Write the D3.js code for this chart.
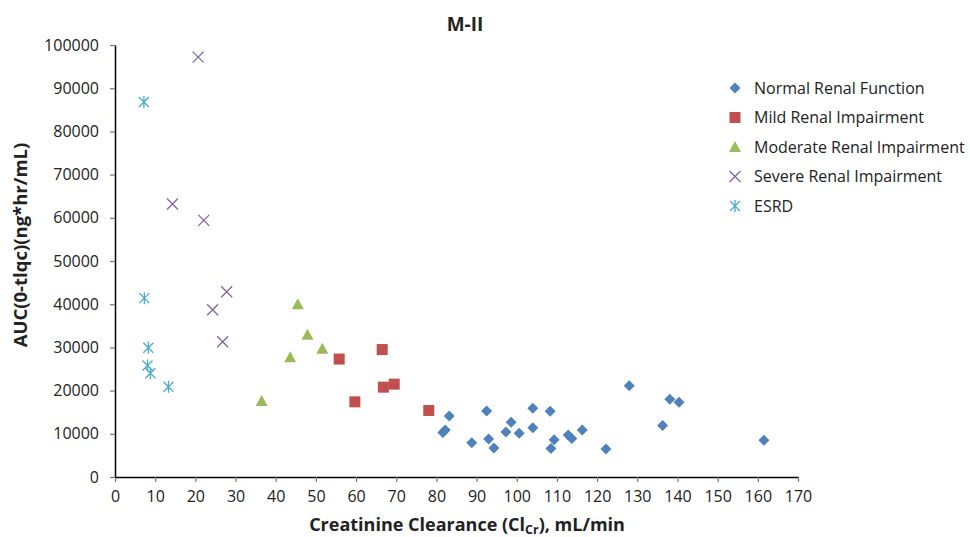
<!DOCTYPE html>
<html><head><meta charset="utf-8">
<script src="https://cdn.jsdelivr.net/npm/d3@7"></script>
<style>body{margin:0;background:#fff}svg{display:block}text{font-family:"Open Sans","Liberation Sans",sans-serif}</style>
</head><body>
<svg id="c" width="970" height="537"></svg>
<script>
const xTicks = d3.range(0, 171, 10);
const yTicks = d3.range(0, 100001, 10000);
const seriesNames = ["Normal Renal Function","Mild Renal Impairment","Moderate Renal Impairment","Severe Renal Impairment","ESRD"];
const normal = [[83.2,14100],[81.6,10300],[82.2,10900],[88.8,7900],[92.5,15300],[93.0,8800],[94.3,6700],[97.3,10400],[98.6,12700],[100.6,10100],[104.0,15900],[104.0,11400],[108.3,15200],[109.3,8600],[108.5,6600],[112.8,9700],[113.7,8900],[116.3,10900],[122.2,6500],[128.0,21100],[136.3,11900],[138.1,18000],[140.4,17300],[161.5,8500]];
const mild = [[55.8,27300],[66.5,29500],[59.7,17400],[66.8,20800],[69.5,21500],[78.1,15400]];
const moderate = [[45.5,40000],[47.9,32900],[51.6,29700],[43.6,27700],[36.5,17600]];
const severe = [[20.7,97200],[14.3,63200],[22.1,59400],[27.8,42900],[24.3,38700],[26.8,31300]];
const esrd = [[7.2,86800],[7.3,41400],[8.3,29900],[8.1,25800],[8.8,24000],[13.3,20900]];
const seriesData = [normal, mild, moderate, severe, esrd];
const colors = ["#4F81BD","#C0504D","#9BBB59","#8064A2","#4BACC6"];

const svg = d3.select("#c");
const m = {l:115, r:798, t:45, b:477};
const x = d3.scaleLinear().domain([0,170]).range([m.l, m.r]);
const y = d3.scaleLinear().domain([0,100000]).range([m.b, m.t]);

// axes
const xa = svg.append("g").attr("transform",`translate(0,${m.b})`)
  .call(d3.axisBottom(x).tickValues(xTicks).tickFormat(d3.format("d")).tickSize(5).tickPadding(9).tickSizeOuter(0));
const ya = svg.append("g").attr("transform",`translate(${m.l},0)`)
  .call(d3.axisLeft(y).tickValues(yTicks).tickFormat(d3.format("d")).tickSize(5).tickPadding(11).tickSizeOuter(0));
[xa,ya].forEach(a=>{
  a.select(".domain").attr("stroke","#000").attr("stroke-width",1.5);
  a.selectAll(".tick line").attr("stroke","#777").attr("stroke-width",1.2);
  a.selectAll(".tick text").attr("font-size",16).attr("fill","#222");
});

// markers
function drawMarker(g, i, cx, cy){
  const c = colors[i];
  if(i===0){
    g.append("path").attr("d",`M${cx},${cy-5.5}L${cx+5.5},${cy}L${cx},${cy+5.5}L${cx-5.5},${cy}Z`).attr("fill",c);
  } else if(i===1){
    g.append("rect").attr("x",cx-5.5).attr("y",cy-5.5).attr("width",11).attr("height",11).attr("fill",c);
  } else if(i===2){
    g.append("path").attr("d",`M${cx},${cy-6}L${cx+6},${cy+5}L${cx-6},${cy+5}Z`).attr("fill",c);
  } else if(i===3){
    g.append("path").attr("d",`M${cx-5.5},${cy-5.5}L${cx+5.5},${cy+5.5}M${cx+5.5},${cy-5.5}L${cx-5.5},${cy+5.5}`).attr("stroke",c).attr("stroke-width",1.3).attr("fill","none");
  } else {
    g.append("path").attr("d",`M${cx-5},${cy-5}L${cx+5},${cy+5}M${cx+5},${cy-5}L${cx-5},${cy+5}M${cx},${cy-6}L${cx},${cy+6}`).attr("stroke",c).attr("stroke-width",1.3).attr("fill","none");
  }
}
seriesData.forEach((arr,i)=>{
  const g = svg.append("g");
  arr.forEach(d=>drawMarker(g,i,x(d[0]),y(d[1])));
});

// title
svg.append("text").attr("x",465).attr("y",31).attr("text-anchor","middle")
  .attr("font-size",19).attr("font-weight","bold").attr("fill","#222").text("M-II");

// x axis title
const xt = svg.append("text").attr("x",467).attr("y",531).attr("text-anchor","middle")
  .attr("font-size",18).attr("font-weight","bold").attr("fill","#222");
xt.append("tspan").text("Creatinine Clearance (Cl");
xt.append("tspan").attr("font-size",12.5).attr("dy",3).text("Cr");
xt.append("tspan").attr("dy",-3).text("), mL/min");

// y axis title
svg.append("text").attr("transform","translate(27,245) rotate(-90)").attr("text-anchor","middle")
  .attr("font-size",18.5).attr("font-weight","bold").attr("fill","#222").text("AUC(0-tlqc)(ng*hr/mL)");

// legend
const lg = svg.append("g");
seriesNames.forEach((n,i)=>{
  const ly = 88 + i*29.5;
  drawMarker(lg, i, 735, ly);
  lg.append("text").attr("x",754).attr("y",ly+5.5).attr("font-size",16).attr("fill","#222").text(n);
});
</script>
</body></html>
